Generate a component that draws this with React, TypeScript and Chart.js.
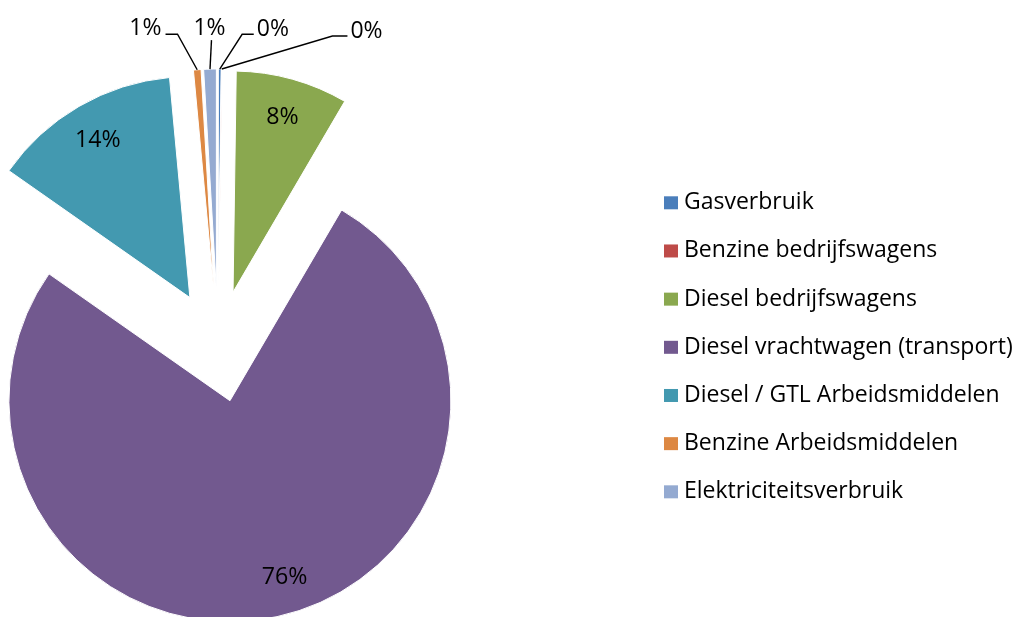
import React, { useEffect, useRef } from "react";
import { Chart, registerables } from "chart.js";

Chart.register(...registerables);

// ---------- data ----------
const categories = [
  "Gasverbruik",
  "Benzine bedrijfswagens",
  "Diesel bedrijfswagens",
  "Diesel vrachtwagen (transport)",
  "Diesel / GTL Arbeidsmiddelen",
  "Benzine Arbeidsmiddelen",
  "Elektriciteitsverbruik",
];
const shares = [0.2, 0.03, 8.2, 76.3, 13.8, 0.55, 0.92];
const sliceColors = ["#4A7EBB", "#BE4B48", "#8AA84F", "#72598F", "#4399B0", "#DD8843", "#94AAD1"];

// ---------- styling ----------
const FONT_FAMILY = "'Open Sans', Lato, sans-serif";
const LEGEND_FONT = 23;
const OUTSIDE_FONT = 23;
const INSIDE_FONT = 23.2;
const CAP_RATIO = 0.714;
const EXPLODE = 56;
const RADIUS = 221;
const INSIDE_LABEL_RADIUS = 0.83;
const insideAngleNudge = [0, 0, 0, -5, 0, 0, 0];
// leader lines for small slices: elbow offset from slice tip, horizontal run
const leaders: ({ dx: number; dy: number; h: number } | null)[] = [
  { dx: 22.4, dy: -34.7, h: 11.6 },
  { dx: 110.7, dy: -33, h: 15 },
  null,
  null,
  null,
  { dx: -19.7, dy: -35.6, h: -12 },
  { dx: 1.5, dy: -29, h: 0 },
];
const LEGEND_X = 664;
const LEGEND_TEXT_X = 684;
const LEGEND_BASE = 209.3;
const LEGEND_STEP = 48.17;
const KEY = 13;

const explodePlugin = {
  id: "explodeSlices",
  afterDatasetsUpdate(chart: any) {
    const meta = chart.getDatasetMeta(0);
    meta.data.forEach((arc: any) => {
      const mid = (arc.startAngle + arc.endAngle) / 2;
      arc.x += Math.cos(mid) * EXPLODE;
      arc.y += Math.sin(mid) * EXPLODE;
    });
  },
};

const labelPlugin = {
  id: "pieLabels",
  afterDatasetsDraw(chart: any) {
    const ctx: CanvasRenderingContext2D = chart.ctx;
    const meta = chart.getDatasetMeta(0);
    const total = shares.reduce((a, b) => a + b, 0);
    ctx.save();
    ctx.fillStyle = "#000";
    ctx.strokeStyle = "#000";
    ctx.lineWidth = 1.4;
    ctx.textBaseline = "alphabetic";
    meta.data.forEach((arc: any, i: number) => {
      const text = Math.round((shares[i] / total) * 100) + "%";
      const mid = (arc.startAngle + arc.endAngle) / 2;
      const R = arc.outerRadius;
      const ld = leaders[i];
      if (!ld) {
        ctx.font = `${INSIDE_FONT}px ${FONT_FAMILY}`;
        const a = mid + (insideAngleNudge[i] * Math.PI) / 180;
        const cx = arc.x + Math.cos(a) * R * INSIDE_LABEL_RADIUS;
        const cy = arc.y + Math.sin(a) * R * INSIDE_LABEL_RADIUS;
        ctx.textAlign = "center";
        ctx.fillText(text, cx, cy + (INSIDE_FONT * CAP_RATIO) / 2);
      } else {
        ctx.font = `${OUTSIDE_FONT}px ${FONT_FAMILY}`;
        const tx = arc.x + Math.cos(mid) * R;
        const ty = arc.y + Math.sin(mid) * R;
        const ex = tx + ld.dx;
        const ey = ty + ld.dy;
        const hx = ex + ld.h;
        ctx.beginPath();
        ctx.moveTo(tx, ty);
        ctx.lineTo(ex, ey);
        if (ld.h) ctx.lineTo(hx, ey);
        ctx.stroke();
        if (ld.h > 0) {
          ctx.textAlign = "left";
          ctx.fillText(text, hx + 3, ey + 1.5);
        } else if (ld.h < 0) {
          ctx.textAlign = "right";
          ctx.fillText(text, hx - 4, ey + 1);
        } else {
          ctx.textAlign = "center";
          ctx.fillText(text, ex - 2, ey - 5.5);
        }
      }
    });
    ctx.restore();
  },
  afterDraw(chart: any) {
    const ctx: CanvasRenderingContext2D = chart.ctx;
    ctx.save();
    ctx.font = `${LEGEND_FONT}px ${FONT_FAMILY}`;
    ctx.textAlign = "left";
    ctx.textBaseline = "alphabetic";
    categories.forEach((c, i) => {
      const by = LEGEND_BASE + LEGEND_STEP * i;
      ctx.fillStyle = sliceColors[i];
      ctx.fillRect(LEGEND_X, by - KEY, KEY + 1, KEY);
      ctx.fillStyle = "#000";
      ctx.fillText(c, LEGEND_TEXT_X, by);
    });
    ctx.restore();
  },
};

export default function App() {
  const ref = useRef<HTMLCanvasElement>(null);
  useEffect(() => {
    const chart = new Chart(ref.current as HTMLCanvasElement, {
      type: "pie",
      data: {
        labels: categories,
        datasets: [
          {
            data: shares,
            backgroundColor: sliceColors,
            borderColor: "#ffffff",
            borderWidth: 1,
          },
        ],
      },
      options: {
        responsive: false,
        animation: false,
        events: [],
        radius: RADIUS,
        layout: { padding: { left: 0, right: 584, top: 75, bottom: 0 } },
        plugins: { legend: { display: false }, tooltip: { enabled: false } },
      } as any,
      plugins: [explodePlugin, labelPlugin],
    });
    return () => chart.destroy();
  }, []);
  return (
    <div style={{ position: "absolute", left: 0, top: 0, width: 1020, height: 617, background: "#fff" }}>
      <canvas ref={ref} width={1020} height={617} style={{ display: "block" }} />
    </div>
  );
}
